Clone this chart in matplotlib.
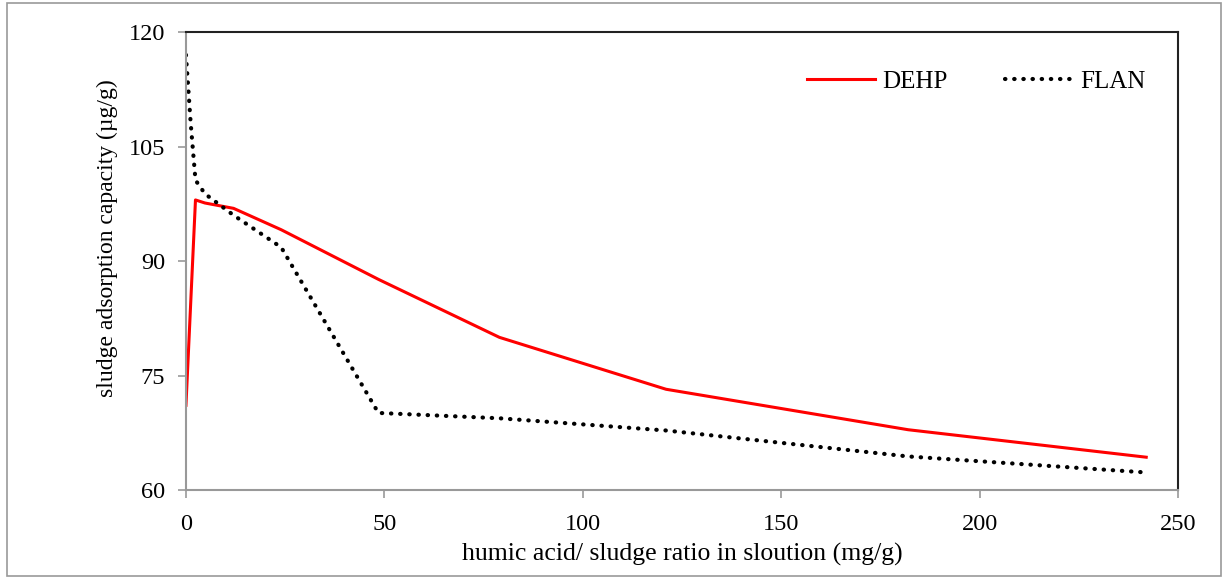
import matplotlib.pyplot as plt
from matplotlib.patches import Rectangle

# data
x_dehp = [0, 2.4, 4.8, 12, 24, 48.5, 79, 121, 182, 242]
y_dehp = [71.1, 98.0, 97.6, 96.9, 94.1, 87.6, 80.0, 73.2, 67.9, 64.3]

x_flan = [0, 1.2, 2.4, 4.8, 12, 24, 48.5, 79, 121, 182, 242]
y_flan = [117.0, 108.0, 100.6, 98.8, 96.0, 91.8, 70.1, 69.4, 67.8, 64.4, 62.3]

xticks = [0, 50, 100, 150, 200, 250]
yticks = [60, 75, 90, 105, 120]

plt.rcParams['font.family'] = ['Liberation Serif', 'DejaVu Serif']

fig = plt.figure(figsize=(12.25, 5.78), dpi=100)
ax = fig.add_axes([0.1518, 0.1522, 0.8098, 0.7924])

ax.plot(x_dehp, y_dehp, color='#ff0000', lw=2.2, label='DEHP', solid_joinstyle='round')
ax.plot(x_flan, y_flan, color='black', lw=3, linestyle=(0, (0.1, 2.1)),
        dash_capstyle='round', label='FLAN')

ax.set_xlim(0, 250)
ax.set_ylim(60, 120)
ax.set_xticks(xticks)
ax.set_yticks(yticks)
ax.tick_params(labelsize=17.5, color='#999999', length=6, width=1.2)
ax.tick_params(axis='x', pad=11)
ax.tick_params(axis='y', pad=9)

for s in ['left', 'bottom']:
    ax.spines[s].set_color('#999999')
    ax.spines[s].set_linewidth(1.5)
for s in ['top', 'right']:
    ax.spines[s].set_color('#222222')
    ax.spines[s].set_linewidth(1.5)

ax.set_xlabel('humic acid/ sludge ratio in sloution (mg/g)', fontsize=18.5, labelpad=6)
ax.set_ylabel('sludge adsorption capacity (\u00b5g/g)', fontsize=17, labelpad=8)
ax.yaxis.set_label_coords(-0.068, 0.55)

ax.legend(loc='upper right', ncol=2, frameon=False, fontsize=18,
          handlelength=2.7, columnspacing=2.3, handletextpad=0.3,
          bbox_to_anchor=(0.99, 0.965))

fig.patches.append(Rectangle((0.006, 0.003), 0.991, 0.991, transform=fig.transFigure,
                             fill=False, edgecolor='#999999', lw=1.2))

fig.savefig('out.png', dpi=100)
